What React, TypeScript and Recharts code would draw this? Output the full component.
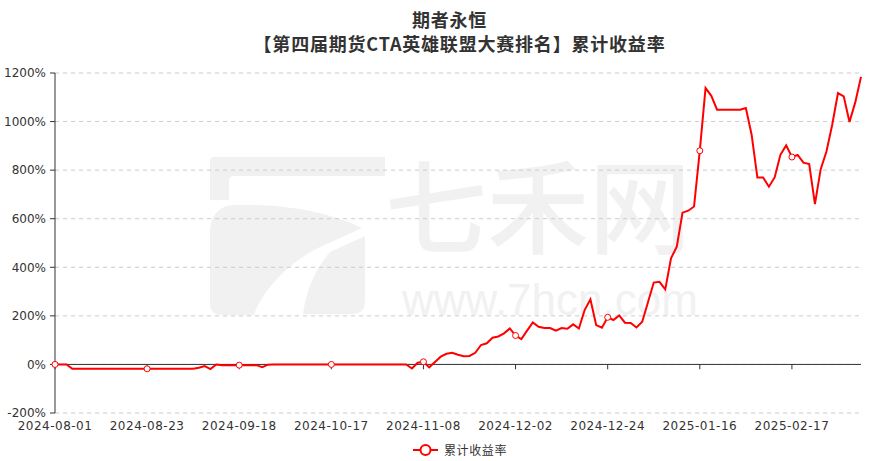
import React from 'react';
import {
  LineChart,
  Line,
  XAxis,
  YAxis,
  CartesianGrid,
  ReferenceLine,
} from 'recharts';

// trading days per month (categories)
const aug24 = ['01','02','05','06','07','08','09','12','13','14','15','16','19','20','21','22','23','26','27','28','29','30'];
const sep24 = ['02','03','04','05','06','09','10','11','12','13','18','19','20','23','24','25','26','27','30'];
const oct24 = ['08','09','10','11','14','15','16','17','18','21','22','23','24','25','28','29','30','31'];
const nov24 = ['01','04','05','06','07','08','11','12','13','14','15','18','19','20','21','22','25','26','27','28','29'];
const dec24 = ['02','03','04','05','06','09','10','11','12','13','16','17','18','19','20','23','24','25','26','27','30','31'];
const jan25 = ['02','03','06','07','08','09','10','13','14','15','16','17','20','21','22','23','24','27'];
const feb25 = ['05','06','07','10','11','12','13','14','17','18','19','20','21','24','25','26','27','28'];
const mar25 = ['03','04','05'];

// cumulative return, %
const augVals = [0, 0, 0, -18, -18, -18, -18, -18, -18, -18, -18, -18, -18, -18, -18, -18, -18, -18, -18, -18, -18, -18];
const sepVals = [-18, -18, -18, -14, -7, -19, 0, -3, -3, -3, -3, -3, -3, -3, -11, -1, 0, 0, 0];
const octVals = [0, 0, 0, 0, 0, 0, 0, 0, 0, 0, 0, 0, 0, 0, 0, 0, 0, 0];
const novVals = [0, 0, 0, -17, 7, 11, -12, 10, 32, 44, 48, 40, 34, 35, 48, 80, 87, 110, 115, 128, 148];
const decVals = [119, 104, 139, 173, 155, 150, 150, 139, 150, 147, 165, 148, 224, 268, 162, 151, 194, 183, 202, 172, 171, 152];
const janVals = [176, 256, 337, 340, 309, 437, 485, 625, 633, 650, 880, 1138, 1106, 1049, 1049, 1049, 1049, 1049];
const febVals = [1056, 946, 770, 770, 732, 770, 863, 902, 854, 863, 831, 825, 660, 804, 877, 987, 1117, 1104];
const marVals = [998, 1079, 1184];

const yTicks = [-200, 0, 200, 400, 600, 800, 1000, 1200];
const tickLabels = ['2024-08-01', '2024-08-23', '2024-09-18', '2024-10-17', '2024-11-08', '2024-12-02', '2024-12-24', '2025-01-16', '2025-02-17'];

const months: [string, string[], number[]][] = [
  ['2024-08', aug24, augVals],
  ['2024-09', sep24, sepVals],
  ['2024-10', oct24, octVals],
  ['2024-11', nov24, novVals],
  ['2024-12', dec24, decVals],
  ['2025-01', jan25, janVals],
  ['2025-02', feb25, febVals],
  ['2025-03', mar25, marVals],
];

const rows = months.flatMap(([ym, days, vals]) =>
  days.map((d, i) => ({ date: `${ym}-${d}`, value: vals[i] }))
);

const RED = '#ff0000';
const TXT = '#333';
const axisFont = '"DejaVu Sans", sans-serif';
const cjkFont = '"Noto Sans CJK SC", sans-serif';

function SparseDot(props: any) {
  const { cx, cy, index } = props;
  if (index % 16 !== 0) return <g key={`d${index}`} />;
  return <circle key={`d${index}`} cx={cx} cy={cy} r={3} fill="#fff" stroke={RED} strokeWidth={1} />;
}

function Watermark() {
  const g = '#f1f1f1';
  return (
    <svg width={879} height={461} style={{ position: 'absolute', left: 0, top: 0 }}>
      <path d="M214,157 H385 V176 H234 Q229,176 229,181 V200 H210 V161 Q210,157 214,157 Z" fill={g} />
      <path d="M234,205 C285,204 330,212 362,228 L318,248 C290,262 262,290 254,315 H222 Q210,315 210,303 V232 C210,216 220,205 234,205 Z" fill={g} />
      <path d="M330,252 C316,268 306,290 303,314 H352 Q365,314 365,301 V236 Z" fill={g} />
      <text x={385} y={246} fontSize={102} fill={g} fontFamily={cjkFont} fontWeight={500}>七禾网</text>
      <text x={402} y={315} fontSize={44} fill={g} fontFamily='"Liberation Sans", sans-serif'>www.7hcn.com</text>
    </svg>
  );
}

export default function App() {
  return (
    <div style={{ position: 'absolute', left: 0, top: 0, width: 879, height: 461, background: '#fff', overflow: 'hidden' }}>
      <Watermark />
      <div style={{ position: 'absolute', left: 0, top: 7, width: 879, textAlign: 'center', fontFamily: cjkFont, fontWeight: 700, fontSize: 18, lineHeight: '24px', color: TXT, letterSpacing: 0.8 }}>
        <div style={{ paddingLeft: 20 }}>期者永恒</div>
        <div style={{ paddingLeft: 40 }}>【第四届期货CTA英雄联盟大赛排名】累计收益率</div>
      </div>
      <div style={{ position: 'absolute', left: 0, top: 0 }}>
        <LineChart width={879} height={461} data={rows} margin={{ top: 73, right: 18, bottom: 18, left: 0 }}>
          <CartesianGrid vertical={false} strokeDasharray="4 4" stroke="#ccc" />
          <XAxis
            dataKey="date"
            interval={15}
            axisLine={false}
            tickLine={false}
            tickSize={0}
            tickMargin={8}
            height={30}
            tick={{ fill: TXT, fontSize: 12, fontFamily: axisFont, letterSpacing: 0.5 }}
          />
          <YAxis
            domain={[-200, 1200]}
            ticks={yTicks}
            interval={0}
            width={55}
            tickFormatter={(v) => `${v}%`}
            axisLine={{ stroke: TXT }}
            tickLine={{ stroke: TXT }}
            tickSize={5}
            tickMargin={4}
            tick={{ fill: TXT, fontSize: 12, fontFamily: axisFont }}
          />
          <ReferenceLine y={0} stroke={TXT} strokeWidth={1} />
          {tickLabels.map((d) => (
            <ReferenceLine key={d} segment={[{ x: d, y: 0 }, { x: d, y: -20 }]} stroke={TXT} />
          ))}
          <Line
            type="linear"
            dataKey="value"
            stroke={RED}
            strokeWidth={2}
            dot={SparseDot}
            activeDot={false}
            isAnimationActive={false}
          />
        </LineChart>
      </div>
      <div style={{ position: 'absolute', left: 413, top: 441, display: 'flex', alignItems: 'center', gap: 6 }}>
        <svg width={25} height={14}>
          <line x1={0} y1={7} x2={25} y2={7} stroke={RED} strokeWidth={2} />
          <circle cx={12.5} cy={7} r={5} fill="#fff" stroke={RED} strokeWidth={2} />
        </svg>
        <span style={{ fontFamily: cjkFont, fontSize: 12, color: TXT, letterSpacing: 0.6, lineHeight: '18px' }}>累计收益率</span>
      </div>
    </div>
  );
}
